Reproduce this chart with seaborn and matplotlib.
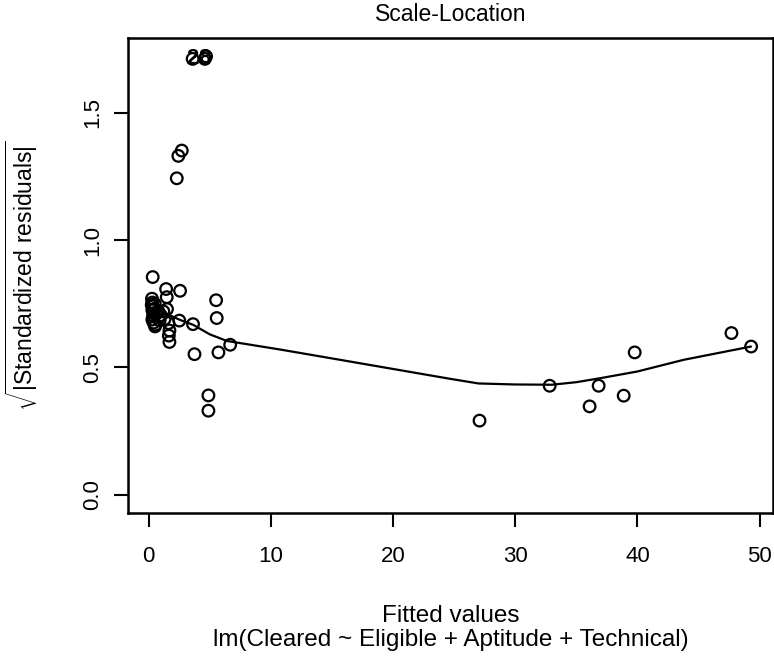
import matplotlib
matplotlib.use("Agg")
import matplotlib.pyplot as plt
import seaborn as sns
import pandas as pd

# fitted values / sqrt|standardized residuals|
fitted = [0.33, 1.43, 2.57, 1.48, 1.50, 2.51, 3.63, 0.52, 1.62, 1.70, 1.65, 1.70,
          5.52, 5.57, 3.75, 5.71, 6.67, 4.89, 4.89, 2.71, 2.43, 2.30,
          27.08, 32.82, 36.83, 36.09, 38.88, 39.78, 47.70, 49.31,
          0.27, 0.30, 0.35, 0.30, 0.40, 0.35, 0.45, 0.50, 0.30, 0.60, 0.40,
          0.80, 1.00, 1.20, 1.30, 0.90, 0.25, 0.55,
          3.6, 4.6, 4.7]
sqrt_res = [0.855, 0.808, 0.801, 0.776, 0.729, 0.684, 0.670, 0.661, 0.674, 0.645, 0.625, 0.600,
            0.764, 0.694, 0.552, 0.559, 0.589, 0.390, 0.330, 1.352, 1.331, 1.243,
            0.291, 0.428, 0.428, 0.347, 0.389, 0.559, 0.635, 0.582,
            0.770, 0.755, 0.740, 0.725, 0.712, 0.700, 0.730, 0.750, 0.688, 0.710, 0.676,
            0.720, 0.705, 0.720, 0.690, 0.685, 0.745, 0.668,
            1.712, 1.712, 1.722]

# smoother line
smooth_x = [0.3, 1.5, 2.5, 3.66, 5.0, 6.4, 10.8, 16.5, 24.7, 27.0, 30.0, 33.0,
            35.0, 37.0, 40.0, 43.8, 49.3]
smooth_y = [0.735, 0.71, 0.688, 0.667, 0.63, 0.604, 0.57, 0.523, 0.455, 0.437, 0.433, 0.432,
            0.442, 0.458, 0.484, 0.530, 0.582]

# labelled extreme points
label_text = ["2", "8"]
label_x = [3.6, 4.6]
label_y = [1.712, 1.712]

x_ticks = [0, 10, 20, 30, 40, 50]
y_ticks = [0.0, 0.5, 1.0, 1.5]

sns.set_style("white")
plt.rcParams['font.family'] = ['Liberation Sans', 'DejaVu Sans']
plt.rcParams['mathtext.fontset'] = 'custom'
plt.rcParams['mathtext.rm'] = 'Liberation Sans'
plt.rcParams['text.color'] = 'black'
plt.rcParams['axes.labelcolor'] = 'black'

pts = pd.DataFrame({"fitted": fitted, "res": sqrt_res})
line = pd.DataFrame({"x": smooth_x, "y": smooth_y})

fig = plt.figure(figsize=(7.74, 6.59), dpi=100)
ax = fig.add_axes([0.1654, 0.2215, 0.8333, 0.7208])

sns.scatterplot(data=pts, x="fitted", y="res", ax=ax, s=70, facecolor="none",
                edgecolor="black", linewidth=1.6, marker="o")
sns.lineplot(data=line, x="x", y="y", ax=ax, color="black", linewidth=1.6,
             sort=False, estimator=None)

for t, xx, yy in zip(label_text, label_x, label_y):
    ax.text(xx, yy, t, ha="center", va="center", fontsize=16, fontweight="bold",
            color="black", zorder=10)

ax.set_xlim(-1.69, 51.1)
ax.set_ylim(-0.072, 1.794)
ax.set_xticks(x_ticks)
ax.set_yticks(y_ticks)
ax.set_yticklabels([f"{v:.1f}" for v in y_ticks], rotation=90, va="center")
ax.tick_params(axis="both", direction="out", length=10, width=1.5, labelsize=16,
               bottom=True, left=True, colors="black")
ax.tick_params(axis="x", pad=14)
ax.tick_params(axis="y", pad=8)
for sp in ax.spines.values():
    sp.set_color("black")
    sp.set_linewidth(1.8)

ax.set_xlabel("Fitted values\nlm(Cleared ~ Eligible + Aptitude + Technical)",
              fontsize=17.5, labelpad=27, linespacing=1.15)
ax.set_ylabel(r"$\sqrt{|\mathrm{Standardized\ residuals}|}$", fontsize=16.5, labelpad=30)
ax.set_title("Scale-Location", fontsize=16.5, pad=12)

fig.savefig("out.png", dpi=100)
